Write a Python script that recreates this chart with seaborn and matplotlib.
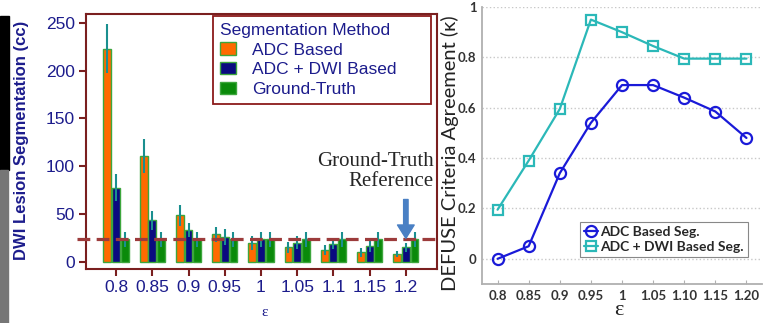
import numpy as np
import pandas as pd
import seaborn as sns
import matplotlib.pyplot as plt
from matplotlib.patches import Rectangle

# --- data ---
eps_labels = ['0.8', '0.85', '0.9', '0.95', '1', '1.05', '1.1', '1.15', '1.2']
eps_labels_right = ['0.8', '0.85', '0.9', '0.95', '1', '1.05', '1.10', '1.15', '1.20']
methods = ['ADC Based', 'ADC + DWI Based', 'Ground-Truth']

adc_vol = [223, 111, 49, 29, 20, 15.5, 13, 10.5, 8.5]
adc_err = [26, 18, 11, 8, 7.5, 6, 5, 4.5, 3.5]
dwi_vol = [78, 44, 33.5, 26.5, 24, 20.5, 19.5, 17, 15.5]
dwi_err = [14, 10, 7.5, 8, 8, 7, 5.5, 6, 5]
gt_vol = [24, 24, 24, 24, 24, 24, 24, 24, 24]
gt_err = [8, 8, 8, 8, 8, 8, 8, 8, 8]
gt_reference = 24.5

adc_kappa = [0.0, 0.05, 0.34, 0.54, 0.69, 0.69, 0.64, 0.585, 0.48]
dwi_kappa = [0.195, 0.39, 0.595, 0.95, 0.9, 0.845, 0.795, 0.795, 0.795]

# colours
navy = '#1c1c8c'
darkred = '#7a1f1f'
bar_colors = ['#ff6a00', '#0a0a80', '#0a8a0a']
err_color = '#1a8f8f'

sns.set_style('white')
plt.rcParams['font.family'] = ['Liberation Sans', 'DejaVu Sans']

fig = plt.figure(figsize=(7.71, 3.23), dpi=100)
W, H = 771, 323


def px_axes(x0, x1, y0, y1):
    return fig.add_axes([x0 / W, 1 - y1 / H, (x1 - x0) / W, (y1 - y0) / H])


# scan artefacts on the left edge
fig.patches.append(Rectangle((0, 1 - 170 / H), 9 / W, 154 / H, transform=fig.transFigure,
                             color='black', zorder=0))
fig.patches.append(Rectangle((0, 0), 8 / W, 1 - 170 / H, transform=fig.transFigure,
                             color='#767676', zorder=0))

# ---------------- left: bar chart ----------------
ax = px_axes(86, 437, 14, 269)
df = pd.DataFrame({
    'eps': eps_labels * 3,
    'method': np.repeat(methods, len(eps_labels)),
    'volume': adc_vol + dwi_vol + gt_vol,
})
sns.barplot(data=df, x='eps', y='volume', hue='method', hue_order=methods,
            palette=bar_colors, saturation=1, width=0.72, gap=0.1,
            edgecolor='#3da63d', linewidth=1, ax=ax)

for cont, vals, errs in zip(ax.containers, [adc_vol, dwi_vol, gt_vol], [adc_err, dwi_err, gt_err]):
    xs = [p.get_x() + p.get_width() / 2 for p in cont]
    ax.errorbar(xs, vals, yerr=errs, fmt='none', ecolor=err_color, elinewidth=1.5,
                capsize=0, zorder=3)

ax.axhline(gt_reference, xmin=-0.026, xmax=1, color='#9c3b3b', lw=2.3,
           dashes=(4, 2), clip_on=False, zorder=4)

ax.set_xlim(-0.83, 8.86)
ax.set_ylim(-7, 259)
ax.set_yticks([0, 50, 100, 150, 200, 250])
for s in ax.spines.values():
    s.set_color(darkred)
    s.set_linewidth(1.5)
ax.tick_params(axis='both', direction='out', length=5, width=1.5, color=darkred,
               labelcolor=navy, labelsize=12.5, pad=3)
ax.tick_params(axis='x', bottom=True)
ax.tick_params(axis='y', left=True)

ax.set_ylabel('DWI Lesion Segmentation (cc)', color=navy, fontsize=12, fontweight='bold')
ax.yaxis.set_label_coords(-0.163, 0.504)
ax.set_xlabel('ε', color=navy, fontsize=11, family='Liberation Serif')
ax.xaxis.set_label_coords(0.51, -0.145)

handles, labels = ax.get_legend_handles_labels()
leg = ax.legend(handles, labels, title='Segmentation Method', loc='upper left',
                bbox_to_anchor=(0.362, 0.5, 0.621, 0.492), mode='expand',
                borderaxespad=0, fontsize=12.5, title_fontsize=12.5, alignment='left',
                fancybox=False, framealpha=1, edgecolor='#8b1a1a', handlelength=0.95,
                handleheight=0.7, handletextpad=0.92, labelspacing=0.26, borderpad=0.4)
leg.get_frame().set_linewidth(1.3)
leg.get_title().set_color(navy)
for t in leg.get_texts():
    t.set_color(navy)

ax.text(0.991, 0.382, 'Ground-Truth\nReference', transform=ax.transAxes, ha='right',
        va='center', multialignment='right', fontsize=15, family='Liberation Serif',
        linespacing=1.05)
ax.annotate('', xy=(8, 25), xytext=(8, 65.5),
            arrowprops=dict(arrowstyle='simple,head_length=0.6,head_width=0.75,tail_width=0.2',
                            color='#4a80c4', mutation_scale=16, shrinkA=0, shrinkB=0),
            zorder=5)

# ---------------- right: kappa line chart ----------------
ax2 = px_axes(482, 762, 7, 284)
sns.lineplot(x=eps_labels_right, y=adc_kappa, color='#1a1ad8', lw=1.6, marker='o',
             markersize=8, markerfacecolor='none', markeredgecolor='#1a1ad8',
             markeredgewidth=1.6, label='ADC Based Seg.', ax=ax2)
sns.lineplot(x=eps_labels_right, y=dwi_kappa, color='#2bb8b8', lw=1.6, marker='s',
             markersize=6.5, markerfacecolor='none', markeredgecolor='#2bb8b8',
             markeredgewidth=1.6, label='ADC + DWI Based Seg.', ax=ax2)

ax2.set_xlim(-0.5, 8.5)
ax2.set_ylim(-0.1, 1.0)
ax2.set_yticks([0, 0.2, 0.4, 0.6, 0.8, 1.0])
ax2.set_yticklabels(['0', '0.2', '0.4', '0.6', '0.8', '1'])
ax2.yaxis.grid(True, linestyle=':', color='#c8c8c8', lw=1)
ax2.set_axisbelow(True)
for side in ['top', 'right']:
    ax2.spines[side].set_visible(False)
for side in ['left', 'bottom']:
    ax2.spines[side].set_color('#b0b0b0')
    ax2.spines[side].set_linewidth(1.3)
ax2.tick_params(axis='both', direction='in', length=3, color='#b0b0b0', labelsize=9.5,
                labelcolor='#333333', pad=4)
ax2.tick_params(axis='x', bottom=True)
ax2.tick_params(axis='y', left=False)
for t in ax2.get_xticklabels() + ax2.get_yticklabels():
    t.set_family('Lato')
    t.set_fontweight('bold')

ax2.set_ylabel('DEFUSE Criteria Agreement (κ)', fontsize=14.5, color='#222222', family='Lato')
ax2.yaxis.set_label_coords(-0.082, 0.471)
ax2.set_xlabel('ε', fontsize=16, color='#222222', family='Liberation Serif')
ax2.xaxis.set_label_coords(0.49, -0.06)

leg2 = ax2.legend(loc='lower right', bbox_to_anchor=(0.95, 0.098), borderaxespad=0,
                  fancybox=False, framealpha=1, edgecolor='#888888', handlelength=1.0,
                  handletextpad=0.2, labelspacing=0.2, borderpad=0.3,
                  prop={'family': 'Lato', 'weight': 'bold', 'size': 10})
leg2.get_frame().set_linewidth(0.8)

fig.savefig('out.png', dpi=100, facecolor='white')
